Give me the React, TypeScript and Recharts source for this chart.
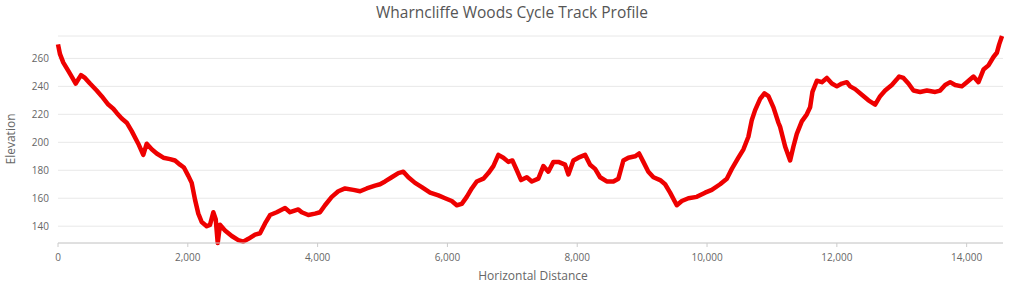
import { LineChart, Line, XAxis, YAxis, CartesianGrid } from "recharts";

// distance along the track (m) and elevation (m)
const distances = [
  0, 31, 82, 159, 211, 273, 313, 354, 416, 493, 596, 673, 775, 852, 905, 982,
  1059, 1136, 1237, 1314, 1367, 1444, 1521, 1623, 1726, 1803, 1880, 1940, 2008,
  2060, 2111, 2162, 2214, 2291, 2342, 2393, 2430, 2461, 2496, 2573, 2677, 2778,
  2855, 2933, 3036, 3113, 3190, 3267, 3370, 3498, 3575, 3703, 3755, 3857, 3960,
  4037, 4114, 4218, 4319, 4423, 4551, 4654, 4757, 4885, 4962, 5039, 5142, 5244,
  5321, 5398, 5501, 5605, 5733, 5861, 5964, 6067, 6144, 6221, 6298, 6375, 6452,
  6554, 6631, 6708, 6785, 6862, 6939, 7001, 7069, 7135, 7223, 7300, 7401, 7478,
  7555, 7633, 7710, 7813, 7864, 7941, 8018, 8121, 8198, 8275, 8352, 8455, 8557,
  8634, 8711, 8788, 8891, 8953, 9019, 9096, 9174, 9277, 9354, 9431, 9534, 9611,
  9713, 9842, 9970, 10073, 10201, 10305, 10382, 10483, 10561, 10637, 10690,
  10741, 10818, 10884, 10946, 11023, 11100, 11126, 11203, 11280, 11331, 11383,
  11460, 11537, 11588, 11624, 11692, 11769, 11846, 11923, 12000, 12077, 12154,
  12205, 12282, 12385, 12487, 12590, 12667, 12744, 12847, 12924, 12960, 13026,
  13103, 13180, 13283, 13387, 13515, 13592, 13669, 13746, 13823, 13926, 14003,
  14105, 14182, 14259, 14336, 14413, 14465, 14501, 14545,
];

const elevations = [
  270, 263, 257, 251, 247, 242, 245, 248, 246, 242, 237, 233, 227, 224, 221, 217,
  214, 208, 199, 191, 199, 195, 192, 189, 188, 187, 184, 182, 176,
  171, 159, 149, 143, 140, 141, 150, 145, 128, 141, 137, 133, 130,
  129, 131, 134, 135, 142, 148, 150, 153, 150, 152, 150, 148, 149,
  150, 155, 161, 165, 167, 166, 165, 167, 169, 170, 172, 175, 178,
  179, 175, 171, 168, 164, 162, 160, 158, 155, 156, 161, 167, 172,
  174, 178, 183, 191, 189, 186, 187, 180, 173, 175, 172, 174, 183,
  179, 186, 186, 184, 177, 187, 189, 191, 184, 181, 175, 172, 172,
  174, 187, 189, 190, 192, 186, 179, 175, 173, 170, 164, 155, 158,
  160, 161, 164, 166, 170, 174, 181, 189, 195, 204, 216,
  223, 231, 235, 233, 225, 214, 211, 197, 187, 197, 206,
  215, 220, 225, 236, 244, 243, 246, 242, 240, 242, 243,
  240, 238, 234, 230, 227, 233, 237, 241, 245, 247, 246,
  242, 237, 236, 237, 236, 237, 241, 243, 241, 240, 243,
  247, 243, 252, 255, 261, 264, 270, 276,
];

const xTicks = [0, 2000, 4000, 6000, 8000, 10000, 12000, 14000];
const yTicks = [140, 160, 180, 200, 220, 240, 260];

const data = distances.map((d, i) => ({ d, elev: elevations[i] }));

const font = "'Open Sans', sans-serif";

export default function App() {
  return (
    <div
      style={{
        position: "absolute",
        left: 0,
        top: 0,
        width: 1024,
        height: 283,
        background: "#fff",
        fontFamily: font,
      }}
    >
      <div
        style={{
          position: "absolute",
          top: 1,
          left: 0,
          width: 1024,
          textAlign: "center",
          fontSize: 15.5,
          color: "#555",
        }}
      >
        Wharncliffe Woods Cycle Track Profile
      </div>
      <div
        style={{
          position: "absolute",
          left: 10,
          top: 139,
          transform: "translate(-50%, -50%) rotate(-90deg)",
          fontSize: 12,
          color: "#666",
          whiteSpace: "nowrap",
        }}
      >
        Elevation
      </div>
      <div
        style={{
          position: "absolute",
          left: 0,
          top: 267,
          width: 1066,
          textAlign: "center",
          fontSize: 12,
          color: "#666",
        }}
      >
        Horizontal Distance
      </div>
      <LineChart
        width={1024}
        height={283}
        data={data}
        margin={{ top: 36, right: 21, left: 0, bottom: 0 }}
      >
        <CartesianGrid vertical={false} stroke="#e8e8e8" />
        <XAxis
          dataKey="d"
          type="number"
          domain={[0, 14560]}
          ticks={xTicks}
          height={40}
          tickFormatter={(v: number) => v.toLocaleString("en-US")}
          stroke="#cccccc"
          tickSize={4}
          tickMargin={7}
          tick={{ fill: "#666", fontSize: 10, fontFamily: font }}
        />
        <YAxis
          type="number"
          domain={[128, 276]}
          ticks={yTicks}
          width={58}
          axisLine={false}
          tickLine={false}
          tickMargin={3}
          tick={{ fill: "#666", fontSize: 10, fontFamily: font }}
        />
        <Line
          type="linear"
          dataKey="elev"
          stroke="#ee0000"
          strokeWidth={4.5}
          strokeLinejoin="round"
          dot={false}
          isAnimationActive={false}
        />
      </LineChart>
    </div>
  );
}
